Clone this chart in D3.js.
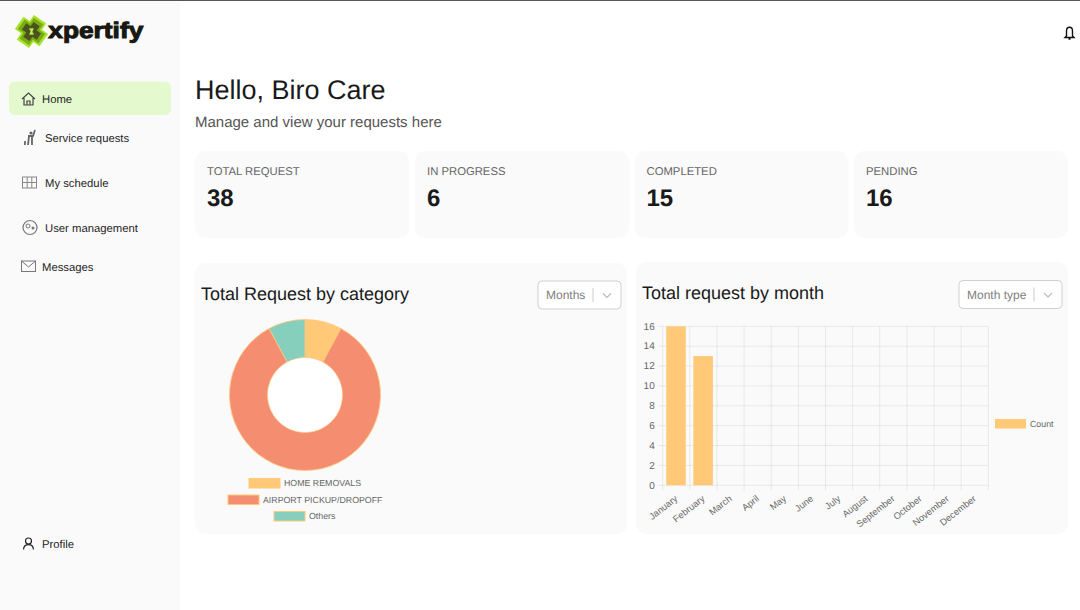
<!DOCTYPE html>
<html><head><meta charset="utf-8">
<script src="https://cdn.jsdelivr.net/npm/d3@7"></script>
<style>
html,body{margin:0;padding:0;background:#fff;overflow:hidden}
svg{display:block;font-family:"Liberation Sans",Arial,sans-serif;text-rendering:geometricPrecision}
</style></head><body>
<svg id="c" width="1080" height="610"></svg>
<script>
const navLabels = ["Home","Service requests","My schedule","User management","Messages","Profile"];
const statLabels = ["TOTAL REQUEST","IN PROGRESS","COMPLETED","PENDING"];
const statValues = [38,6,15,16];
const categories = ["HOME REMOVALS","AIRPORT PICKUP/DROPOFF","Others"];
const categoryValues = [3,32,3];
const categoryColors = ["#FFC978","#F58E70","#86CFBD"];
const months = ["January","February","March","April","May","June","July","August","September","October","November","December"];
const monthCounts = [16,13,0,0,0,0,0,0,0,0,0,0];
const yTicks = [0,2,4,6,8,10,12,14,16];

const svg = d3.select("#c");
const rect=(x,y,w,h,r,f,s)=>svg.append("rect").attr("x",x).attr("y",y).attr("width",w).attr("height",h).attr("rx",r).attr("fill",f).attr("stroke",s||"none");
const text=(t,x,y,size,fill,o={})=>svg.append("text").attr("x",x).attr("y",y).attr("font-size",size).attr("fill",fill)
  .attr("font-weight",o.weight||"normal").attr("text-anchor",o.anchor||"start").text(t);

// page frame
rect(0,0,180,610,0,"#FAFAFA");
rect(0,0,1080,1,0,"#555");

// logo
const logo = svg.append("g").attr("transform","translate(31.5,31.5) rotate(35)");
[[15,"#A6E22B",.5],[12.5,"#7DAA16",.46],[9,"#47551A",.42]].forEach(([r,c,k])=>{
  const t=r*k;
  logo.append("path").attr("fill",c)
    .attr("d",`M${-t},${-r}H${t}V${-t}H${r}V${t}H${t}V${r}H${-t}V${t}H${-r}V${-t}H${-t}Z`);
});
logo.append("path").attr("d","M-4,-1L0,-4L1,0L4,1L0,4L-1,0Z").attr("fill","#C4E860");
text("xpertify",48.3,38.3,22.5,"#17180F",{weight:"bold"}).attr("stroke","#17180F").attr("stroke-width",1).attr("textLength",95).attr("lengthAdjust","spacingAndGlyphs");

// nav
rect(9,81.5,162,33.5,6,"#E5F9CF");
const navX=[42,45,45,45,42,42], navY=[102.5,141.5,186.5,231.5,270.5,548];
navLabels.forEach((n,i)=>text(n,navX[i],navY[i],11.3,"#1E1E1E"));
const ic=(d,c="#444",w=1.2)=>svg.append("path").attr("d",d).attr("fill","none").attr("stroke",c).attr("stroke-width",w);
ic("M22,99L28.5,93L35,99M24,98V105H33V98M27,105V101H30V105");
svg.append("circle").attr("cx",31).attr("cy",133).attr("r",1.6).attr("fill","#666");
ic("M29,136L28,145M32,136L32,145M28,136H33L35,130M25,141V145","#666",1.8);
rect(22.5,177,14,11,0,"none","#888");
ic("M27.2,177V188M31.8,177V188M22.5,182.5H36.5","#888",1);
svg.append("circle").attr("cx",30).attr("cy",227.5).attr("r",7).attr("fill","none").attr("stroke","#777").attr("stroke-width",1.2);
svg.append("circle").attr("cx",28).attr("cy",226).attr("r",2).attr("fill","none").attr("stroke","#777");
svg.append("circle").attr("cx",33).attr("cy",228).attr("r",1.5).attr("fill","#777");
rect(21.5,261,14,10.5,0,"none","#777");
ic("M21.5,261L28.5,267L35.5,261","#777",1);
svg.append("circle").attr("cx",28.5).attr("cy",541).attr("r",3).attr("fill","none").attr("stroke","#222").attr("stroke-width",1.2);
ic("M23.5,549.5C24,543 33,543 33.5,549.5","#222",1.2);
ic("M1066.5,36V31C1066.5,26 1072.5,26 1072.5,31V36L1074,37.5H1065ZM1068.5,39H1070.5","#111",1.4);

// header
text("Hello, Biro Care",195,99,27,"#1A1A1A");
text("Manage and view your requests here",195,127,15,"#555");

// stat cards
const statX=[195,415,634.5,854];
statLabels.forEach((l,i)=>{
  rect(statX[i],151,214,87,10,"#FAFAFA");
  text(l,statX[i]+12,175,11.3,"#666");
  text(statValues[i],statX[i]+12,206,24,"#1A1A1A",{weight:"bold"});
});

// chart cards
rect(195,263,432,271,10,"#FAFAFA");
rect(636,262,432,272,10,"#FAFAFA");
text("Total Request by category",201,300,18,"#1A1A1A");
text("Total request by month",642,299,18,"#1A1A1A");
function select(x,y,w,h,label,sepX){
  rect(x,y,w,h,4,"#fff","#D0D0D0");
  text(label,x+8,y+18,12,"#808080");
  svg.append("line").attr("x1",sepX).attr("x2",sepX).attr("y1",y+7).attr("y2",y+21).attr("stroke","#CCC");
  ic(`M${sepX+10},${y+12.5}l4,4l4,-4`,"#BBB",1.2);
}
select(538,281,83,28,"Months",593);
select(959,280.5,103,28,"Month type",1034);

// donut
const pie=d3.pie().sort(null)(categoryValues);
const arc=d3.arc().innerRadius(37.5).outerRadius(75.5);
svg.append("g").attr("transform","translate(305,395)").selectAll("path").data(pie).join("path")
  .attr("d",arc).attr("fill",(d,i)=>categoryColors[i]).attr("stroke","#FFC978").attr("stroke-width",.8);
svg.append("circle").attr("cx",305).attr("cy",395).attr("r",37).attr("fill","#fff");

const legendX=[249,228,274], legendY=[478.5,495,511.5], legendT=[284,263,309];
categories.forEach((c,i)=>{
  rect(legendX[i],legendY[i],31,9.5,0,categoryColors[i],"#FFC978");
  text(c,legendT[i],legendY[i]+7.8,8.8,"#666");
});

// bars
const x=d3.scaleBand().domain(months).range([662.7,988.3]);
const y=d3.scaleLinear().domain([0,16]).range([485.3,326.3]);
const grid=svg.append("g").attr("stroke","#000").attr("stroke-opacity",.07);
yTicks.forEach(t=>grid.append("line").attr("x1",658).attr("x2",988.3).attr("y1",y(t)).attr("y2",y(t)));
months.concat([null]).forEach((m,i)=>{
  const px = m===null ? x.range()[1] : x(m);
  grid.append("line").attr("x1",px).attr("x2",px).attr("y1",326.3).attr("y2",490.5);
});
svg.append("g").selectAll("rect").data(months).join("rect")
  .attr("x",m=>x(m)+x.bandwidth()*.13).attr("width",x.bandwidth()*.72)
  .attr("y",(m,i)=>y(monthCounts[i])).attr("height",(m,i)=>y(0)-y(monthCounts[i]))
  .attr("fill","#FFC978");
const yAxis=d3.axisLeft(y).tickValues(yTicks).tickSize(0).tickPadding(8);
const gy=svg.append("g").attr("transform","translate(662.7,-0.5)").call(yAxis);
gy.select(".domain").remove();
gy.selectAll("text").attr("font-size",10).attr("font-family","inherit").attr("fill","#666");
const xAxis=d3.axisBottom(x).tickSize(0).tickPadding(0);
const gx=svg.append("g").attr("transform","translate(0,485.3)").call(xAxis);
gx.select(".domain").remove();
gx.selectAll("text").attr("font-size",9.3).attr("font-family","inherit").attr("fill","#666")
  .attr("text-anchor","end").attr("dy",0).attr("y",0)
  .attr("transform","translate(2,14.5) rotate(-38)");
rect(995,419,31,9.5,0,"#FFC978");
text("Count",1030,427,8.8,"#666");
</script></body></html>
